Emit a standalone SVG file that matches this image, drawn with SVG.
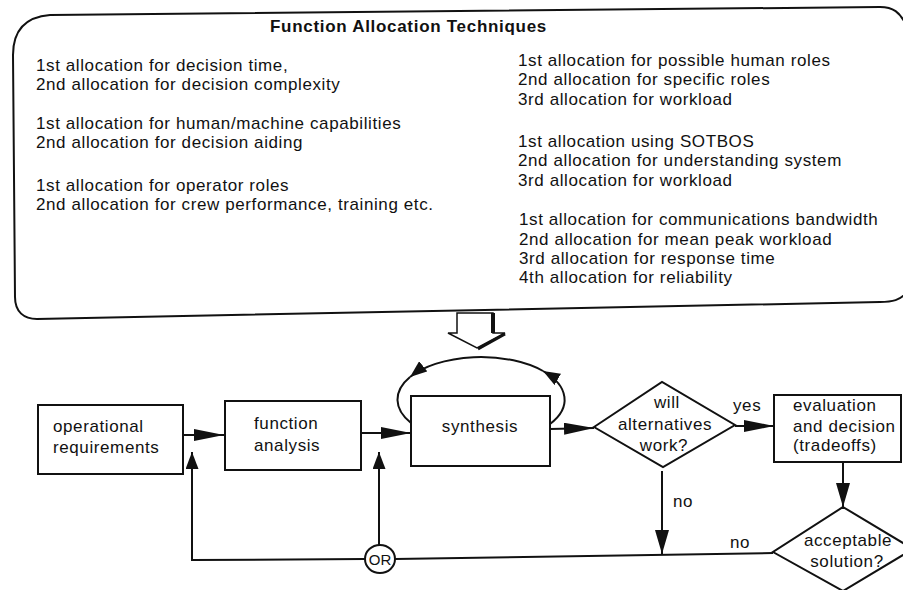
<svg xmlns="http://www.w3.org/2000/svg" width="903" height="590" viewBox="0 0 903 590">
<style>
  text { font-family: "Liberation Sans", Arial, sans-serif; font-size: 17px; letter-spacing: 0.6px; fill: #111; }
  .title { font-weight: bold; letter-spacing: 0.7px; }
  .mid { text-anchor: middle; }
  .box { fill: #fff; stroke: #111; stroke-width: 2; }
  .line { fill: none; stroke: #111; stroke-width: 2; }
</style>
<defs>
  <marker id="aLong" markerUnits="userSpaceOnUse" markerWidth="30" markerHeight="12" refX="30" refY="6" orient="auto">
    <path d="M0,0 L30,6 L0,12 Z" fill="#111"/>
  </marker>
  <marker id="aMed" markerUnits="userSpaceOnUse" markerWidth="24" markerHeight="14" refX="24" refY="7" orient="auto">
    <path d="M0,0 L24,7 L0,14 Z" fill="#111"/>
  </marker>
  <marker id="aShort" markerUnits="userSpaceOnUse" markerWidth="17" markerHeight="13" refX="17" refY="6.5" orient="auto">
    <path d="M0,0 L17,6.5 L0,13 Z" fill="#111"/>
  </marker>
</defs>
<rect width="903" height="590" fill="#fff"/>

<g id="techniques">
  <path class="line" d="M13,55 C13,30 25,17 50,15 L880,7 C893,7 900,12 906,25 L906,293 C900,300 893,302 880,302 L37,319 C24,319 15,312 15,297 Z"/>
  <text class="title" x="270" y="32">Function Allocation Techniques</text>
  <text x="36" y="71">1st  allocation for decision time,</text>
  <text x="36" y="90">2nd allocation for decision complexity</text>
  <text x="36" y="129">1st allocation for human/machine  capabilities</text>
  <text x="36" y="148">2nd allocation for decision aiding</text>
  <text x="36" y="191">1st allocation for operator roles</text>
  <text x="36" y="210">2nd allocation for crew performance, training etc.</text>
  <text x="518" y="66">1st allocation for possible human roles</text>
  <text x="518" y="85">2nd allocation for specific roles</text>
  <text x="518" y="105">3rd allocation for workload</text>
  <text x="518" y="147">1st allocation using SOTBOS</text>
  <text x="518" y="166">2nd allocation for  understanding system</text>
  <text x="518" y="186">3rd allocation for workload</text>
  <text x="519" y="225">1st allocation for communications bandwidth</text>
  <text x="519" y="245">2nd allocation for mean peak workload</text>
  <text x="519" y="264">3rd allocation for response time</text>
  <text x="519" y="283">4th allocation for reliability</text>
</g>

<g id="feed-arrow">
  <polygon points="457,313 457,333 448,333 477,348 505,333 493,333 493,313" fill="#fff" stroke="#111" stroke-width="1.5"/>
  <polyline points="493,313 493,333" fill="none" stroke="#111" stroke-width="4"/>
  <polyline points="505,334 478,349" fill="none" stroke="#111" stroke-width="3"/>
</g>

<g id="operational-requirements">
  <rect class="box" x="38" y="405" width="145" height="69"/>
  <text x="53" y="432">operational</text>
  <text x="53" y="453">requirements</text>
</g>

<g id="function-analysis">
  <rect class="box" x="225" y="401" width="136" height="69"/>
  <text x="254" y="429">function</text>
  <text x="254" y="451">analysis</text>
</g>

<g id="synthesis">
  <rect class="box" x="411" y="396" width="139" height="70"/>
  <text class="mid" x="480" y="432">synthesis</text>
</g>

<g id="will-alternatives-work">
  <polygon class="box" points="594,427 662,382 735,425 663,467"/>
  <text class="mid" x="667" y="408">will</text>
  <text class="mid" x="665" y="430">alternatives</text>
  <text class="mid" x="664" y="451">work?</text>
</g>

<g id="evaluation-and-decision">
  <rect class="box" x="774" y="395" width="127" height="67"/>
  <text x="793" y="411">evaluation</text>
  <text x="793" y="432">and decision</text>
  <text x="793" y="451">(tradeoffs)</text>
</g>

<g id="acceptable-solution">
  <polygon class="box" points="843,507 913,549 843,591 773,552"/>
  <text class="mid" x="848" y="546">acceptable</text>
  <text class="mid" x="847" y="567">solution?</text>
</g>

<g id="or-junction">
  <ellipse cx="380" cy="559" rx="15" ry="14" fill="#fff" stroke="#111" stroke-width="2"/>
  <text class="mid" x="380" y="565" style="font-size:15px;letter-spacing:0">OR</text>
</g>

<g id="connectors">
  <line class="line" x1="183" y1="435" x2="224" y2="435" marker-end="url(#aLong)"/>
  <line class="line" x1="361" y1="433" x2="411" y2="433" marker-end="url(#aLong)"/>
  <line class="line" x1="550" y1="429" x2="594" y2="428" marker-end="url(#aLong)"/>
  <line class="line" x1="735" y1="426" x2="774" y2="426" marker-end="url(#aLong)"/>
  <line class="line" x1="843" y1="462" x2="843" y2="507" marker-end="url(#aMed)"/>
  <line class="line" x1="662" y1="471" x2="662" y2="554" marker-end="url(#aMed)"/>
  <path class="line" d="M550,424 A84,43 0 0 0 543,371" marker-end="url(#aShort)"/>
  <path class="line" d="M543,371 A84,43 0 0 0 410,377" marker-end="url(#aShort)"/>
  <path class="line" d="M410,377 A84,43 0 0 0 411,423"/>
  <line class="line" x1="773" y1="553" x2="395" y2="559"/>
  <polyline class="line" points="365,559 192,560 192,452" marker-end="url(#aShort)"/>
  <line class="line" x1="379" y1="545" x2="379" y2="452" marker-end="url(#aShort)"/>
  <text x="733" y="411">yes</text>
  <text x="673" y="507">no</text>
  <text x="730" y="548">no</text>
</g>
</svg>
